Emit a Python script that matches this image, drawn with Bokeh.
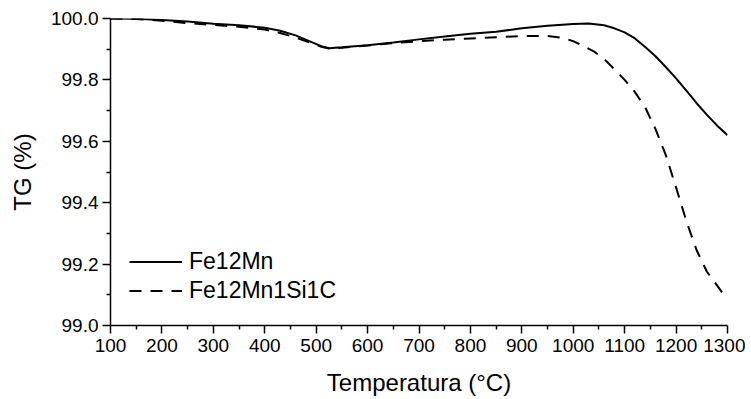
from bokeh.plotting import figure
from bokeh.embed import file_html
from bokeh.resources import INLINE
from bokeh.models import Legend, LegendItem, FixedTicker, PrintfTickFormatter, Range1d

# Data
temp_fe12mn = [100, 150, 200, 250, 300, 350, 400, 430, 460, 490, 510, 525, 550, 600, 650, 700, 750,
               800, 850, 900, 950, 1000, 1030, 1060, 1080, 1100, 1120, 1140, 1160, 1180, 1200,
               1220, 1240, 1260, 1280, 1300]
tg_fe12mn = [100.0, 99.999, 99.995, 99.99, 99.983, 99.978, 99.970, 99.960, 99.945, 99.924, 99.91,
             99.903, 99.906, 99.913, 99.922, 99.932, 99.941, 99.950, 99.957, 99.968, 99.976,
             99.982, 99.984, 99.978, 99.968, 99.955, 99.935, 99.907, 99.877, 99.842, 99.805,
             99.765, 99.724, 99.686, 99.651, 99.62]

temp_fe12mn1si1c = [100, 150, 200, 250, 300, 350, 400, 430, 460, 490, 510, 525, 550, 600, 650, 700,
                    750, 800, 850, 900, 950, 980, 1000, 1020, 1040, 1060, 1080, 1100, 1120, 1140,
                    1160, 1180, 1200, 1220, 1240, 1260, 1280, 1295]
tg_fe12mn1si1c = [100.0, 99.998, 99.993, 99.985, 99.979, 99.973, 99.964, 99.953, 99.938, 99.92,
                  99.908, 99.902, 99.905, 99.912, 99.92, 99.926, 99.931, 99.935, 99.939, 99.943,
                  99.943, 99.937, 99.926, 99.91, 99.893, 99.868, 99.835, 99.80, 99.76, 99.71,
                  99.64, 99.555, 99.45, 99.34, 99.245, 99.175, 99.13, 99.095]

x_ticks = [100, 200, 300, 400, 500, 600, 700, 800, 900, 1000, 1100, 1200, 1300]
y_ticks = [99.0, 99.2, 99.4, 99.6, 99.8, 100.0]
series_names = ["Fe12Mn", "Fe12Mn1Si1C"]

FONT = "Liberation Sans"

p = figure(frame_width=617, frame_height=307, output_backend="svg", toolbar_location=None,
           x_range=Range1d(100, 1300), y_range=Range1d(99.0, 100.0),
           min_border_left=110, min_border_right=18, min_border_top=18, min_border_bottom=72)
p.outline_line_color = None
p.xgrid.visible = False
p.ygrid.visible = False
p.background_fill_color = "white"
p.border_fill_color = "white"

r1 = p.line(temp_fe12mn, tg_fe12mn, line_color="black", line_width=2)
r2 = p.line(temp_fe12mn1si1c, tg_fe12mn1si1c, line_color="black", line_width=2, line_dash="12 9")

for ax in (p.xaxis[0], p.yaxis[0]):
    ax.axis_line_width = 1.5
    ax.axis_line_color = "black"
    ax.major_tick_line_width = 1.5
    ax.minor_tick_line_width = 1.5
    ax.major_tick_line_color = "black"
    ax.minor_tick_line_color = "black"
    ax.major_tick_in = 0
    ax.minor_tick_in = 0
    ax.major_tick_out = 8
    ax.minor_tick_out = 4
    ax.major_label_text_font = FONT
    ax.major_label_text_font_size = "19px"
    ax.major_label_text_color = "black"
    ax.axis_label_text_font = FONT
    ax.axis_label_text_font_size = "24px"
    ax.axis_label_text_font_style = "normal"
    ax.axis_label_text_color = "black"

p.xaxis[0].ticker = FixedTicker(ticks=x_ticks, minor_ticks=[t + 50 for t in x_ticks[:-1]])
p.yaxis[0].ticker = FixedTicker(ticks=y_ticks, minor_ticks=[round(t + 0.1, 1) for t in y_ticks[:-1]])
p.yaxis[0].formatter = PrintfTickFormatter(format="%.1f")
p.xaxis[0].axis_label = "Temperatura (°C)"
p.yaxis[0].axis_label = "TG (%)"
p.xaxis[0].major_label_standoff = 5
p.yaxis[0].major_label_standoff = 4
p.xaxis[0].axis_label_standoff = 14
p.yaxis[0].axis_label_standoff = 12

legend = Legend(items=[LegendItem(label=series_names[0], renderers=[r1]),
                       LegendItem(label=series_names[1], renderers=[r2])],
                location=(19, 20))
legend.border_line_color = None
legend.background_fill_alpha = 0
legend.padding = 0
legend.margin = 0
legend.spacing = 0
legend.glyph_width = 53
legend.glyph_height = 29
legend.label_height = 29
legend.label_standoff = 7
legend.label_text_font = FONT
legend.label_text_font_size = "23px"
legend.label_text_color = "black"
p.add_layout(legend, "center")

open("out.html", "w").write(file_html(p, INLINE))
